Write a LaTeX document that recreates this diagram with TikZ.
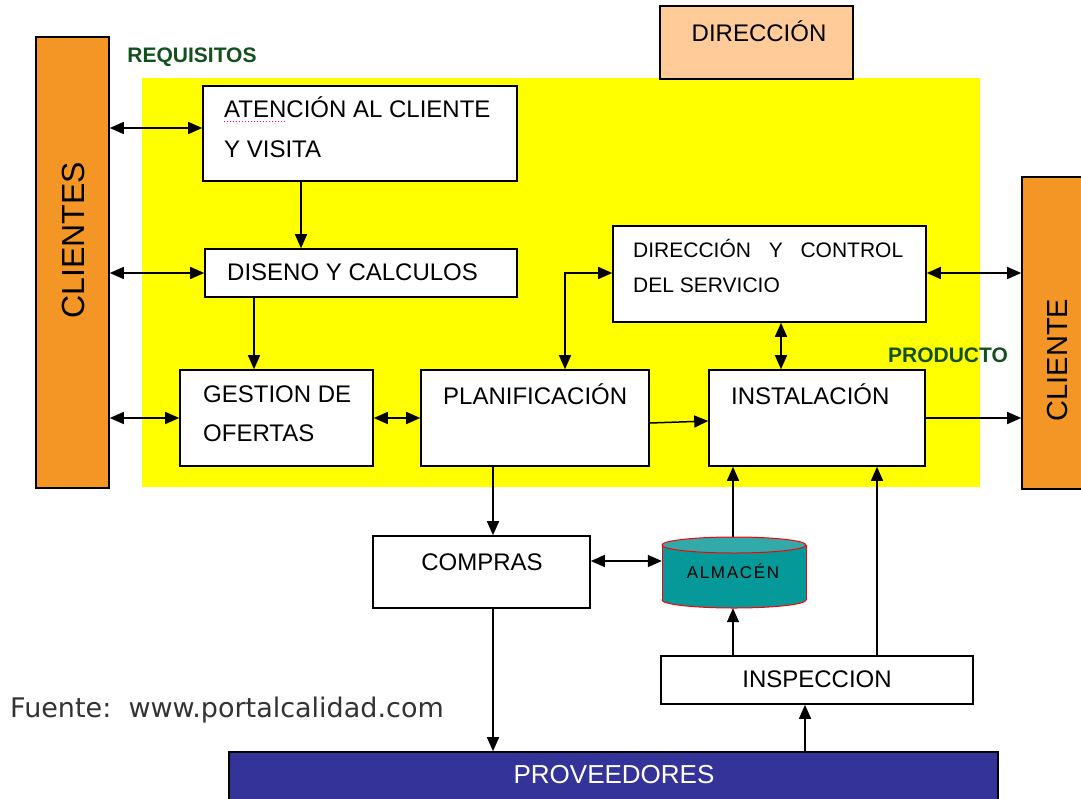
\documentclass[tikz,border=0pt]{standalone}
\usepackage{fontspec}
\setmainfont{Liberation Sans}
\newfontfamily\dejavu{DejaVu Sans}
\usetikzlibrary{arrows.meta}
\definecolor{orangebar}{RGB}{243,150,38}
\definecolor{peach}{RGB}{255,204,153}
\definecolor{provblue}{RGB}{51,51,153}
\definecolor{tealbody}{RGB}{6,153,153}
\definecolor{tealtop}{RGB}{51,170,170}
\definecolor{darkgreen}{RGB}{20,80,30}
\definecolor{fuentegray}{RGB}{51,51,51}
\definecolor{bgyellow}{RGB}{255,255,0}
\tikzset{
  box/.style={draw=black, line width=1.6pt, fill=white, inner sep=0pt},
  bar/.style={draw=black, line width=1.6pt, fill=orangebar, inner sep=0pt},
  txt/.style={inner sep=0pt, font=\fontsize{24}{24}\selectfont},
  lbl/.style={inner sep=0pt, font=\fontsize{21}{21}\selectfont\bfseries, text=darkgreen},
  arr/.style={-{Triangle[length=14pt,width=12pt]}, line width=1.5pt},
  darr/.style={{Triangle[length=14pt,width=12pt]}-{Triangle[length=14pt,width=12pt]}, line width=1.5pt}
}
\begin{document}
\begin{tikzpicture}[x=1pt,y=-1pt]
\useasboundingbox[fill=white] (0,0) rectangle (1081,798);
% yellow area
\fill[bgyellow] (142,78) rectangle (980,487);
% bars
\node[bar, minimum width=73, minimum height=451] (clientes) at (72.5,262.5) {};
\node[inner sep=0pt, rotate=90, font=\fontsize{32}{32}\selectfont] (clientestxt) at (73,240) {CLIENTES};
\node[bar, minimum width=78, minimum height=312] (cliente) at (1061,333) {};
\node[inner sep=0pt, rotate=90, font=\fontsize{29}{29}\selectfont] (clientetxt) at (1058,360) {CLIENTE};
% boxes
\node[box, fill=peach, minimum width=193, minimum height=73] (dir) at (756.5,42.5) {};
\node[txt, anchor=base] (dirtxt) at (759,41.5) {DIRECCIÓN};
\node[box, minimum width=314, minimum height=95] (aten) at (360,133.5) {};
\node[txt, anchor=base west] (atentxt1) at (224,117.5) {ATENCIÓN AL CLIENTE};
\node[txt, anchor=base west] (atentxt2) at (224,157.5) {Y VISITA};
\draw[magenta, dotted, line width=1pt] (224,121) -- (286,121);
\node[box, minimum width=312, minimum height=48] (dis) at (361,273) {};
\node[txt, anchor=base west] (distxt) at (227,280.5) {DISENO Y CALCULOS};
\node[box, minimum width=313, minimum height=96] (dcs) at (769.5,274) {};
\node[txt, anchor=base west, font=\fontsize{21}{21}\selectfont, text width=270, align=left] (dcstxt1) at (633,257.5) {DIRECCIÓN\hfill Y\hfill CONTROL};
\node[txt, anchor=base west, font=\fontsize{21}{21}\selectfont] (dcstxt2) at (633,292.5) {DEL SERVICIO};
\node[box, minimum width=193, minimum height=96] (ges) at (276.5,418) {};
\node[txt, anchor=base west] (gestxt1) at (203,402.5) {GESTION DE};
\node[txt, anchor=base west] (gestxt2) at (203,441.5) {OFERTAS};
\node[box, minimum width=228, minimum height=96] (pla) at (535,418) {};
\node[txt, anchor=base west] (platxt) at (443,404.5) {PLANIFICACIÓN};
\node[box, minimum width=216, minimum height=96] (ins) at (817,418) {};
\node[txt, anchor=base west] (instxt) at (731,404.5) {INSTALACIÓN};
\node[box, minimum width=217, minimum height=72] (com) at (481.5,572) {};
\node[txt, anchor=base] (comtxt) at (482,570.5) {COMPRAS};
\node[box, minimum width=312, minimum height=48] (insp) at (817,680) {};
\node[txt, anchor=base] (insptxt) at (817,687.5) {INSPECCION};
\node[box, fill=provblue, minimum width=769, minimum height=78] (prov) at (613.5,791) {};
\node[txt, anchor=base, text=white, font=\fontsize{26}{26}\selectfont] (provtxt) at (614,783.5) {PROVEEDORES};
% almacen cylinder
\node[inner sep=0pt, minimum width=144, minimum height=71] (alm) at (734,572.5) {};
\filldraw[fill=tealbody, draw=red, line width=1pt] (734,600) ellipse [x radius=72, y radius=8];
\fill[tealbody] (662,545) rectangle (806,600);
\draw[red, line width=1pt] (662,545) -- (662,600) (806,545) -- (806,600);
\filldraw[fill=tealtop, draw=red, line width=1pt] (734,545) ellipse [x radius=72, y radius=8];
\node[inner sep=0pt, anchor=base, font=\fontsize{17}{17}\selectfont\addfontfeature{LetterSpace=10}] (almtxt) at (733,578.5) {ALMACÉN};
% labels
\node[lbl] (req) at (192,57) {REQUISITOS};
\node[lbl] (prod) at (948,355) {PRODUCTO};
\node[inner sep=0pt, anchor=base west, text=fuentegray, font=\dejavu\fontsize{27}{27}\selectfont] (fuente) at (10,717) {Fuente:\ \ www.portalcalidad.com};
% connectors
\draw[darr] (clientes.east |- 0,128) -- (aten.west |- 0,128);
\draw[darr] (clientes.east |- 0,273) -- (dis.west |- 0,273);
\draw[darr] (clientes.east |- 0,418) -- (ges.west |- 0,418);
\draw[arr] (aten.south -| 301,0) -- (dis.north -| 301,0);
\draw[arr] (dis.south -| 254,0) -- (ges.north -| 254,0);
\draw[darr] (ges.east) -- (pla.west);
\draw[darr] (pla.north -| 565,0) -- (565,273) -- (dcs.west |- 0,273);
\draw[darr] (dcs.south -| 781,0) -- (ins.north -| 781,0);
\draw[darr] (dcs.east |- 0,273) -- (cliente.west |- 0,273);
\draw[arr] (pla.east |- 0,423) -- (ins.west |- 0,421);
\draw[arr] (ins.east |- 0,418) -- (cliente.west |- 0,418);
\draw[arr] (pla.south -| 493,0) -- (com.north -| 493,0);
\draw[arr] (com.south -| 493,0) -- (prov.north -| 493,0);
\draw[darr] (com.east |- 0,561) -- (alm.west |- 0,561);
\draw[arr] (alm.north -| 733,0) -- (ins.south -| 733,0);
\draw[arr] (insp.north -| 733,0) -- (alm.south -| 733,0);
\draw[arr] (insp.north -| 877,0) -- (ins.south -| 877,0);
\draw[arr] (prov.north -| 805,0) -- (insp.south -| 805,0);
\end{tikzpicture}
\end{document}
